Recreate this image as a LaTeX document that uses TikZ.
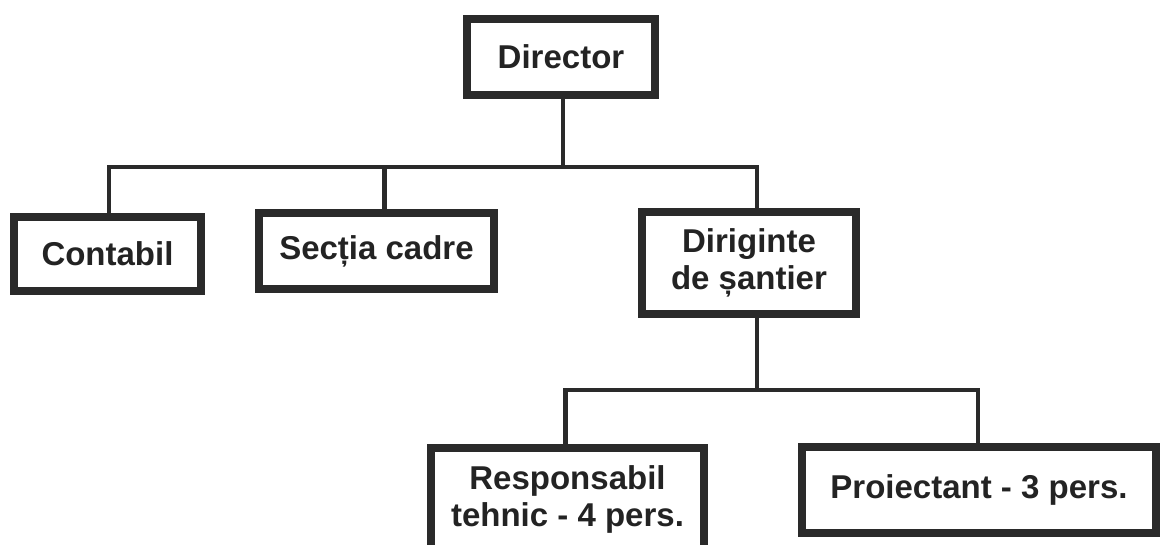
\documentclass[tikz,border=0pt]{standalone}
\usepackage{fontspec}
\setmainfont{Liberation Sans}
\usepackage{xcolor}
\usepackage{tikz}
\usetikzlibrary{calc,positioning}
\definecolor{ink}{HTML}{232323}
\definecolor{frame}{HTML}{2A2A2A}

\begin{document}
\begin{tikzpicture}[x=0.5pt,y=-0.5pt,
  font=\fontsize{16.5pt}{18.5pt}\selectfont\bfseries,
  box/.style={draw=frame,line width=4pt,fill=white,text=ink,align=center,inner sep=0pt},
  wire/.style={draw=frame,line width=2.1pt}]
\useasboundingbox (0,0) rectangle (1161,545);
\fill[white] (0,0) rectangle (1161,545);
% the boxes
\node[box,minimum width=94pt,minimum height=38pt] (dir) at (561,57) {Director};
\node[box,minimum width=93.5pt,minimum height=37pt] (cont) at (107.5,254) {Contabil};
\node[box,minimum width=117.5pt,minimum height=38pt] (sect) at (376.5,251) {Secția cadre};
\node[box,minimum width=107pt,minimum height=51pt] (dirs) at (749,263) {Diriginte\\de șantier};
\node[box,minimum width=136.5pt,minimum height=51pt] (resp) at (567.5,499) {Responsabil\\tehnic - 4 pers.};
\node[box,minimum width=177pt,minimum height=43pt] (proi) at (979,490) {Proiectant - 3 pers.};
% first level
\coordinate (bus) at (563,167);
\draw[wire] ([xshift=1pt]dir.south) -- (bus);
\draw[wire] ([xshift=0.75pt]cont.north) |- (bus);
\draw[wire] (bus) -| ([xshift=4pt]dirs.north);
\draw[wire] ([xshift=4pt]sect.north) -- ([xshift=4pt]sect.north |- bus);
% second level
\coordinate (bus2) at (757,390);
\draw[wire] ([xshift=4pt]dirs.south) -- (bus2);
\draw[wire] ([xshift=-1pt]resp.north) |- (bus2);
\draw[wire] (bus2) -| ([xshift=-0.5pt]proi.north);
\end{tikzpicture}
\end{document}
